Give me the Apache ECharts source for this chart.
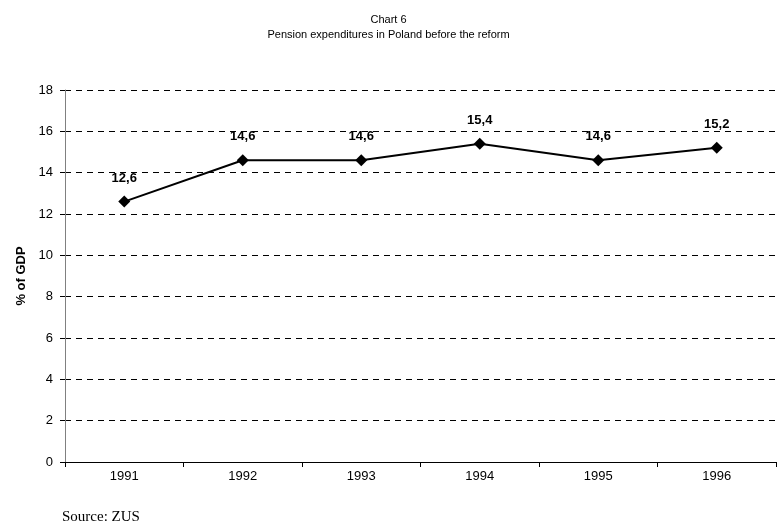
<!DOCTYPE html>
<html>
<head>
<meta charset="utf-8">
<script src="https://cdn.jsdelivr.net/npm/echarts@6/dist/echarts.min.js"></script>
<style>
html, body { margin: 0; padding: 0; background: #fff; }
#main { width: 777px; height: 524px; }
</style>
</head>
<body>
<div id="main"></div>
<script>
var years = ['1991', '1992', '1993', '1994', '1995', '1996'];
var pensionShare = [12.6, 14.6, 14.6, 15.4, 14.6, 15.2];
var yTicks = [0, 2, 4, 6, 8, 10, 12, 14, 16, 18];

var myChart = echarts.init(document.getElementById('main'));
var option = {
	backgroundColor: '#fff',
	textStyle: { fontFamily: 'Liberation Sans, Arial, sans-serif' },
	title: [{
		text: 'Chart 6\nPension expenditures in Poland before the reform',
		left: 'center',
		top: 7,
		textStyle: { fontSize: 11, fontWeight: 'normal', color: '#000', lineHeight: 15 }
	}, {
		text: 'Source: ZUS',
		left: 57,
		top: 505,
		textStyle: { fontSize: 15, fontWeight: 'normal', color: '#000', fontFamily: 'Liberation Serif, Times New Roman, serif' }
	}],
	grid: { left: 65, right: 1, top: 90, bottom: 62 },
	xAxis: {
		type: 'category',
		data: years,
		boundaryGap: true,
		axisLine: { lineStyle: { color: '#000', width: 1 } },
		axisTick: { show: true, length: 5, lineStyle: { color: '#000' } },
		axisLabel: { color: '#000', fontSize: 13, margin: 8 },
		splitLine: { show: false }
	},
	yAxis: {
		type: 'value',
		min: yTicks[0],
		max: yTicks[yTicks.length - 1],
		interval: 2,
		name: '% of GDP',
		nameLocation: 'middle',
		nameGap: 35,
		nameTextStyle: { fontWeight: 'bold', fontSize: 13, color: '#000' },
		axisLine: { show: true, lineStyle: { color: '#808080', width: 1 } },
		axisTick: { show: true, length: 5, lineStyle: { color: '#000' } },
		axisLabel: { color: '#000', fontSize: 13, margin: 12 },
		splitLine: { show: true, lineStyle: { color: '#000', type: [6, 5], width: 1 } }
	},
	series: [{
		type: 'line',
		data: pensionShare,
		symbol: 'diamond',
		symbolSize: 12,
		lineStyle: { color: '#000', width: 2 },
		itemStyle: { color: '#000' },
		label: {
			show: true,
			position: 'top',
			distance: 11,
			color: '#000',
			fontWeight: 'bold',
			fontSize: 13,
			formatter: function (p) { return String(p.value).replace('.', ','); }
		},
		animation: false
	}]
};
myChart.setOption(option);
</script>
</body>
</html>
